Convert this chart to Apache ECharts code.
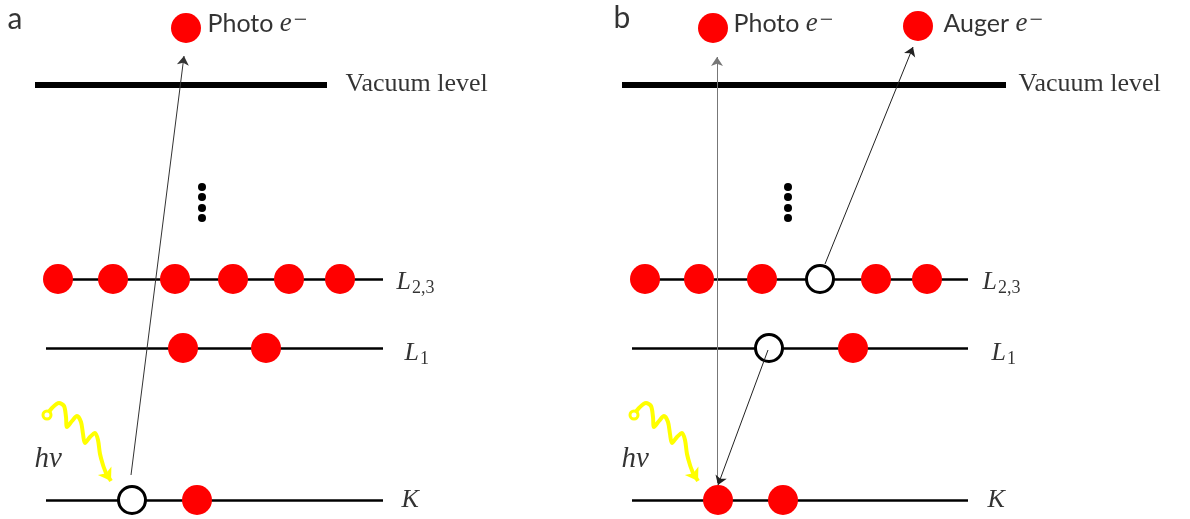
<!DOCTYPE html>
<html><head><meta charset="utf-8">
<script src="https://cdn.jsdelivr.net/npm/echarts@6/dist/echarts.min.js"></script>
<style>html,body{margin:0;padding:0;background:#fff}#c{width:1190px;height:519px}</style>
</head><body><div id="c"></div>
<script>
// ---------- data (diagram units: x along a level, y = energy axis drawn downward) ----------
const panelIds = ['a', 'b'];
const levelNames = ['Vacuum level', 'L2,3', 'L1', 'K'];
const levelY = [85, 279, 348, 500];
const levelFromA = [35, 58, 46, 46];
const levelToA = [327, 383, 383, 383];
const levelFromB = [35, 58, 45, 45];
const levelToB = [419, 381, 381, 381];

// panel a: photoemission
const aL23Electrons = [58, 113, 175, 233, 289, 340];
const aL1Electrons = [183, 266];
const aKElectrons = [197];
const aKHoles = [132];
const aFreeElectrons = [[186, 28]];
const aArrows = [[[131, 475], [184, 56]]];

// panel b: Auger process
const bL23Electrons = [58, 112, 175, 289, 340];
const bL23Holes = [233];
const bL1Electrons = [266];
const bL1Holes = [182];
const bKElectrons = [131, 196];
const bFreeElectrons = [[126, 28], [331, 26]];
const bPhotoArrow = [[[130, 483], [130, 57]]];
const bArrows = [[[238, 264], [326, 47]], [[181, 350], [131, 485]]];

// ellipsis between valence and vacuum
const ellipsisX = [202, 201];
const ellipsisY = [187, 197, 208, 218];

// incoming photon (same in both panels)
const photonWave = [[47, 415], [52, 408], [59, 403], [64, 406], [66, 417], [67, 427], [72, 421], [77, 416],
  [81, 422], [83, 434], [85, 443], [90, 437], [95, 433], [98, 440], [100, 454], [103, 465], [106, 473]];
const photonTip = [111, 481];

// labels
const freeLabelsA = ['Photo'];
const freeLabelPosA = [[207, 24]];
const freeLabelsB = ['Photo', 'Auger'];
const freeLabelPosB = [[146, 24], [356, 24]];
const levelLabelX = [[345, 396, 404, 401], [431, 395, 404, 400]];
const levelLabelY = [84, 282, 353, 500];
const panelLabelPos = [[7, 19], [26, 18]];
const hvPos = [34, 459];

// ---------- styles ----------
const RED = '#ff0000';
const YEL = '#ffff00';
const rich = {
  sans: { fontFamily: 'Lato', fontSize: 25, color: '#000', lineHeight: 34 },
  em: { fontFamily: 'Liberation Serif', fontStyle: 'italic', fontSize: 27, color: '#000', lineHeight: 34 },
  sup: { fontFamily: 'Liberation Serif', fontSize: 24, color: '#000', lineHeight: 34, padding: [0, 0, 6, 2] },
  serif: { fontFamily: 'Liberation Serif', fontSize: 26, color: '#000', lineHeight: 34 },
  it: { fontFamily: 'Liberation Serif', fontStyle: 'italic', fontSize: 26, color: '#000', lineHeight: 34 },
  sub: { fontFamily: 'Liberation Serif', fontSize: 18, color: '#000', lineHeight: 34, padding: [13, 0, 0, 1] },
  hv: { fontFamily: 'Liberation Serif', fontStyle: 'italic', fontSize: 29, color: '#000', lineHeight: 34 },
  panel: { fontFamily: 'Lato', fontSize: 30, color: '#000', lineHeight: 34 }
};

function labelSeries(gi, items, fmt) {
  return {
    type: 'scatter', xAxisIndex: gi, yAxisIndex: gi, z: 10, silent: true,
    symbolSize: 1, itemStyle: { color: 'rgba(0,0,0,0)' },
    label: { show: true, position: 'right', distance: 0, formatter: fmt, rich: rich },
    data: items
  };
}
function levelLabelFmt(p) {
  const n = p.name;
  if (n === 'Vacuum level') return '{serif|Vacuum level}';
  if (n.length > 1) return '{it|' + n[0] + '}{sub|' + n.slice(1) + '}';
  return '{it|' + n + '}';
}
function electrons(gi, pts) {
  return { type: 'scatter', xAxisIndex: gi, yAxisIndex: gi, z: 3, silent: true,
    symbol: 'circle', symbolSize: 30, itemStyle: { color: RED, opacity: 1 }, data: pts };
}
function holes(gi, pts) {
  return { type: 'scatter', xAxisIndex: gi, yAxisIndex: gi, z: 3, silent: true,
    symbol: 'circle', symbolSize: 27, itemStyle: { color: '#fff', borderColor: '#000', borderWidth: 3, opacity: 1 }, data: pts };
}
function arrows(gi, segs, color) {
  return { type: 'lines', coordinateSystem: 'cartesian2d', xAxisIndex: gi, yAxisIndex: gi, z: 5, silent: true,
    symbol: ['none', 'arrow'], symbolSize: 9,
    lineStyle: { color: color, width: 1, opacity: 1 },
    data: segs.map(s => ({ coords: s })) };
}

function panelSeries(gi, from, to, lists) {
  const s = [];
  // energy levels
  s.push({ type: 'lines', coordinateSystem: 'cartesian2d', xAxisIndex: gi, yAxisIndex: gi, z: 1, silent: true,
    lineStyle: { color: '#000', width: 2.5, opacity: 1 },
    data: levelNames.map((n, i) => ({ name: n, coords: [[from[i], levelY[i]], [to[i], levelY[i]]],
      lineStyle: { width: i === 0 ? 6 : 2.5 } })) });
  // ellipsis dots
  s.push({ type: 'scatter', xAxisIndex: gi, yAxisIndex: gi, z: 3, silent: true, symbolSize: 8,
    itemStyle: { color: '#000', opacity: 1 }, data: ellipsisY.map(y => [ellipsisX[gi], y]) });
  // electrons & holes
  lists.electrons.forEach(e => s.push(electrons(gi, e)));
  lists.holes.forEach(h => s.push(holes(gi, h)));
  lists.arrows.forEach(a => s.push(arrows(gi, a[0], a[1])));
  // photon
  s.push({ type: 'line', xAxisIndex: gi, yAxisIndex: gi, z: 4, silent: true, smooth: 0.3, showSymbol: false,
    lineStyle: { color: YEL, width: 4, cap: 'round', join: 'round' }, data: photonWave });
  s.push({ type: 'lines', coordinateSystem: 'cartesian2d', xAxisIndex: gi, yAxisIndex: gi, z: 4, silent: true,
    symbol: ['none', 'arrow'], symbolSize: 12, lineStyle: { color: YEL, width: 4, opacity: 1 },
    data: [{ coords: [photonWave[photonWave.length - 1], photonTip] }] });
  s.push({ type: 'scatter', xAxisIndex: gi, yAxisIndex: gi, z: 4, silent: true, symbol: 'circle', symbolSize: 8,
    itemStyle: { color: '#fff', borderColor: YEL, borderWidth: 3, opacity: 1 }, data: [photonWave[0]] });
  // labels
  s.push(labelSeries(gi, levelNames.map((n, i) => ({ name: n, value: [levelLabelX[gi][i], levelLabelY[i]] })), levelLabelFmt));
  s.push(labelSeries(gi, lists.freeLabels.map((n, i) => ({ name: n, value: lists.freeLabelPos[i] })),
    p => '{sans|' + p.name + ' }{em|e}{sup|\u2212}'));
  s.push(labelSeries(gi, [{ name: panelIds[gi], value: panelLabelPos[gi] }], p => '{panel|' + p.name + '}'));
  s.push(labelSeries(gi, [{ name: 'h\u03bd', value: hvPos }], p => '{hv|' + p.name + '}'));
  return s;
}

const seriesA = panelSeries(0, levelFromA, levelToA, {
  electrons: [aL23Electrons.map(x => [x, levelY[1]]), aL1Electrons.map(x => [x, levelY[2]]),
              aKElectrons.map(x => [x, levelY[3]]), aFreeElectrons],
  holes: [aKHoles.map(x => [x, levelY[3]])],
  arrows: [[aArrows, '#333']],
  freeLabels: freeLabelsA, freeLabelPos: freeLabelPosA
});
const seriesB = panelSeries(1, levelFromB, levelToB, {
  electrons: [bL23Electrons.map(x => [x, levelY[1]]), bL1Electrons.map(x => [x, levelY[2]]),
              bKElectrons.map(x => [x, levelY[3]]), bFreeElectrons],
  holes: [bL23Holes.map(x => [x, levelY[1]]), bL1Holes.map(x => [x, levelY[2]])],
  arrows: [[bPhotoArrow, '#777'], [bArrows, '#222']],
  freeLabels: freeLabelsB, freeLabelPos: freeLabelPosB
});

const chart = echarts.init(document.getElementById('c'), null, { renderer: 'canvas' });
chart.setOption({
  animation: false,
  backgroundColor: '#fff',
  grid: [
    { left: 0, top: 0, width: 587, height: 519 },
    { left: 587, top: 0, width: 587, height: 519 }
  ],
  xAxis: [0, 1].map(i => ({ type: 'value', gridIndex: i, min: 0, max: 587, show: false })),
  yAxis: [0, 1].map(i => ({ type: 'value', gridIndex: i, min: 0, max: 519, inverse: true, show: false })),
  series: seriesA.concat(seriesB)
});
</script></body></html>
